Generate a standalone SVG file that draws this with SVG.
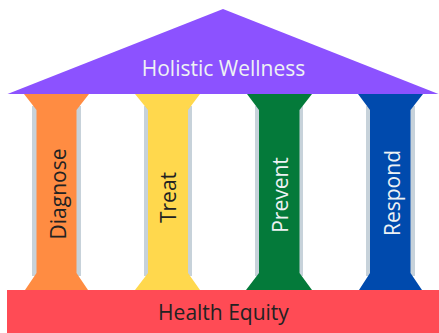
<svg xmlns="http://www.w3.org/2000/svg" width="439" height="333" viewBox="0 0 439 333">
<style>
.t{font-family:"Open Sans","Liberation Sans",sans-serif;text-anchor:middle}
.g{fill:#c7d2da}
.d{fill:#222222}.w{fill:#eef2f4}
</style>
<rect width="439" height="333" fill="#ffffff"/>
<g id="pillar-diagnose">
<rect class="g" x="32" y="106" width="49" height="170"/>
<path fill="#ff8c42" d="M24 94H89L76.500 110V273L88 290H25L36.500 273V110Z"/>
<text class="t d" font-size="21" transform="translate(66 194) rotate(-90)">Diagnose</text>
</g>
<g id="pillar-treat">
<rect class="g" x="144" y="106" width="48" height="170"/>
<path fill="#ffd84d" d="M135 94H200L188 110V273L200 290H135L148 273V110Z"/>
<text class="t d" font-size="21" transform="translate(176 197.500) rotate(-90)">Treat</text>
</g>
<g id="pillar-prevent">
<rect class="g" x="255" y="106" width="48" height="170"/>
<path fill="#047a3a" d="M247 94H312L299.500 110V273L312 290H246L259 273V110Z"/>
<text class="t w" font-size="21" transform="translate(288 195) rotate(-90)">Prevent</text>
</g>
<g id="pillar-respond">
<rect class="g" x="366" y="106" width="49" height="170"/>
<path fill="#004aad" d="M358 94H423L410.500 110V273L422 290H359L370 273V110Z"/>
<text class="t w" font-size="21" transform="translate(400 193) rotate(-90)">Respond</text>
</g>
<g id="roof">
<path fill="#8c52ff" d="M223 9L438.500 94H7.500Z"/>
<text class="t w" font-size="21" x="223.500" y="76">Holistic Wellness</text>
</g>
<g id="base">
<rect fill="#ff4b55" x="7" y="290" width="432" height="43"/>
<text class="t d" font-size="21" x="223.500" y="320">Health Equity</text>
</g>
<g id="connectors"></g>
</svg>
